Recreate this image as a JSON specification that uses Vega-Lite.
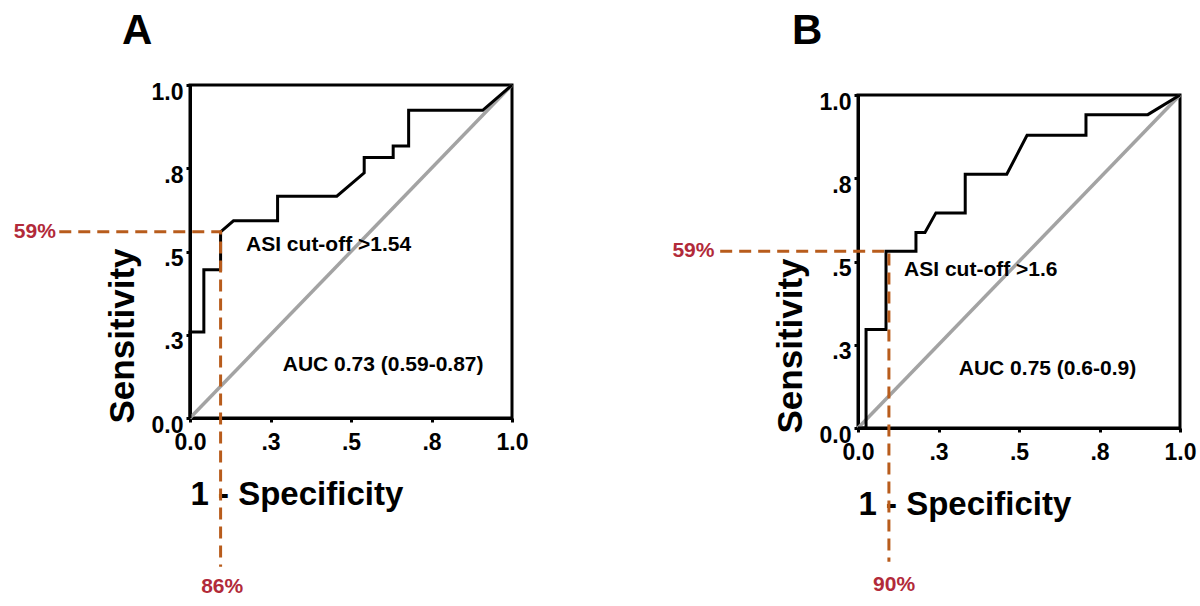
{
  "$schema": "https://vega.github.io/schema/vega-lite/v6.json",
  "background": "white",
  "padding": {"left": 12, "top": 7, "right": 5, "bottom": 5},
  "spacing": 140,
  "config": {
    "font": "Liberation Sans",
    "view": {"stroke": "black", "strokeWidth": 3},
    "axis": {
      "domainColor": "black", "domainWidth": 3,
      "tickColor": "black", "tickWidth": 3, "tickSize": 4,
      "labelFont": "Liberation Sans", "labelFontSize": 23, "labelFontWeight": "bold", "labelColor": "black",
      "titleFont": "Liberation Sans", "titleFontWeight": "bold", "titleColor": "black",
      "grid": false, "labelFlush": false, "labelOverlap": false
    },
    "axisX": {"labelPadding": 9, "titlePadding": 24, "titleAnchor": "start", "labelAngle": 0, "titleFontSize": 33},
    "axisY": {"labelPadding": 3, "labelOffset": 7, "titlePadding": 11, "titleAnchor": "start", "titleFontSize": 35, "titleY": 338}
  },
  "datasets": {
    "spacer": [],
    "diag": [{"x": 0, "y": 0}, {"x": 1, "y": 1}],
    "rocA": [
      {"i": 0, "x": 0, "y": 0}, {"i": 1, "x": 0, "y": 0.258}, {"i": 2, "x": 0.043, "y": 0.258},
      {"i": 3, "x": 0.043, "y": 0.445}, {"i": 4, "x": 0.095, "y": 0.445}, {"i": 5, "x": 0.095, "y": 0.559},
      {"i": 6, "x": 0.135, "y": 0.592}, {"i": 7, "x": 0.272, "y": 0.592}, {"i": 8, "x": 0.272, "y": 0.666},
      {"i": 9, "x": 0.456, "y": 0.666}, {"i": 10, "x": 0.541, "y": 0.736}, {"i": 11, "x": 0.541, "y": 0.782},
      {"i": 12, "x": 0.631, "y": 0.782}, {"i": 13, "x": 0.631, "y": 0.817}, {"i": 14, "x": 0.679, "y": 0.817},
      {"i": 15, "x": 0.679, "y": 0.924}, {"i": 16, "x": 0.909, "y": 0.924}, {"i": 17, "x": 1, "y": 1}
    ],
    "rocB": [
      {"i": 0, "x": 0, "y": 0}, {"i": 1, "x": 0.025, "y": 0}, {"i": 2, "x": 0.025, "y": 0.296},
      {"i": 3, "x": 0.087, "y": 0.296}, {"i": 4, "x": 0.087, "y": 0.531}, {"i": 5, "x": 0.18, "y": 0.531},
      {"i": 6, "x": 0.18, "y": 0.587}, {"i": 7, "x": 0.208, "y": 0.587}, {"i": 8, "x": 0.242, "y": 0.646},
      {"i": 9, "x": 0.333, "y": 0.646}, {"i": 10, "x": 0.333, "y": 0.762}, {"i": 11, "x": 0.462, "y": 0.762},
      {"i": 12, "x": 0.525, "y": 0.879}, {"i": 13, "x": 0.708, "y": 0.879}, {"i": 14, "x": 0.708, "y": 0.941},
      {"i": 15, "x": 0.9, "y": 0.941}, {"i": 16, "x": 1, "y": 1}
    ],
    "cutA": [{"i": 0, "x": -0.406, "y": 0.559}, {"i": 1, "x": 0.095, "y": 0.559}, {"i": 2, "x": 0.095, "y": -0.447}],
    "cutB": [{"i": 0, "x": -0.428, "y": 0.531}, {"i": 1, "x": 0.096, "y": 0.531}, {"i": 2, "x": 0.096, "y": -0.402}],
    "pctA": [{"x": -0.482, "y": 0.559, "label": "59%"}, {"x": 0.1, "y": -0.508, "label": "86%"}],
    "pctB": [{"x": -0.511, "y": 0.531, "label": "59%"}, {"x": 0.112, "y": -0.471, "label": "90%"}],
    "noteA": [{"x": 0.174, "y": 0.52, "label": "ASI cut-off >1.54"}, {"x": 0.288, "y": 0.159, "label": "AUC 0.73 (0.59-0.87)"}],
    "noteB": [{"x": 0.143, "y": 0.475, "label": "ASI cut-off >1.6"}, {"x": 0.313, "y": 0.178, "label": "AUC 0.75 (0.6-0.9)"}]
  },
  "hconcat": [
    {"spacing": 0, "vconcat": [
      {"data": {"name": "spacer"}, "width": 1, "height": 1, "view": {"stroke": null}, "mark": {"type": "text"}, "encoding": {"text": {"field": "label"}}},
      {
        "title": {"text": "A", "anchor": "start", "frame": "group", "dx": -68, "offset": 25, "fontSize": 42, "fontWeight": "bold", "font": "Liberation Sans", "color": "black"},
        "width": 322, "height": 333,
        "encoding": {
          "x": {"field": "x", "type": "quantitative", "scale": {"domain": [0, 1], "nice": false, "zero": false},
                "axis": {"title": "1 - Specificity", "values": [0, 0.25, 0.5, 0.75, 1], "labelExpr": "datum.value == 0 ? '0.0' : datum.value == 1 ? '1.0' : datum.value == 0.25 ? '.3' : datum.value == 0.5 ? '.5' : '.8'"}},
          "y": {"field": "y", "type": "quantitative", "scale": {"domain": [0, 1], "nice": false, "zero": false},
                "axis": {"title": "Sensitivity", "values": [0, 0.25, 0.5, 0.75, 1], "labelExpr": "datum.value == 0 ? '0.0' : datum.value == 1 ? '1.0' : datum.value == 0.25 ? '.3' : datum.value == 0.5 ? '.5' : '.8'"}}
        },
        "layer": [
          {"data": {"name": "diag"}, "mark": {"type": "line", "color": "#a3a3a3", "strokeWidth": 3.5}},
          {"data": {"name": "rocA"}, "mark": {"type": "line", "color": "black", "strokeWidth": 3}, "encoding": {"order": {"field": "i"}}},
          {"data": {"name": "cutA"}, "mark": {"type": "line", "color": "#b85c1c", "strokeWidth": 3, "strokeDash": [12, 7], "clip": false}, "encoding": {"order": {"field": "i"}}},
          {"data": {"name": "pctA"}, "mark": {"type": "text", "color": "#b22a3a", "fontSize": 21, "fontWeight": "bold", "align": "center", "baseline": "middle", "clip": false}, "encoding": {"text": {"field": "label"}}},
          {"data": {"name": "noteA"}, "mark": {"type": "text", "color": "black", "fontSize": 21, "fontWeight": "bold", "align": "left", "baseline": "middle"}, "encoding": {"text": {"field": "label"}}}
        ]
      }
    ]},
    {"spacing": 0, "vconcat": [
      {"data": {"name": "spacer"}, "width": 1, "height": 1, "view": {"stroke": null}, "mark": {"type": "text"}, "encoding": {"text": {"field": "label"}}},
      {
        "title": {"text": "B", "anchor": "start", "frame": "group", "dx": -66, "offset": 35, "fontSize": 42, "fontWeight": "bold", "font": "Liberation Sans", "color": "black"},
        "width": 322, "height": 333,
        "encoding": {
          "x": {"field": "x", "type": "quantitative", "scale": {"domain": [0, 1], "nice": false, "zero": false},
                "axis": {"title": "1 - Specificity", "values": [0, 0.25, 0.5, 0.75, 1], "labelExpr": "datum.value == 0 ? '0.0' : datum.value == 1 ? '1.0' : datum.value == 0.25 ? '.3' : datum.value == 0.5 ? '.5' : '.8'"}},
          "y": {"field": "y", "type": "quantitative", "scale": {"domain": [0, 1], "nice": false, "zero": false},
                "axis": {"title": "Sensitivity", "values": [0, 0.25, 0.5, 0.75, 1], "labelExpr": "datum.value == 0 ? '0.0' : datum.value == 1 ? '1.0' : datum.value == 0.25 ? '.3' : datum.value == 0.5 ? '.5' : '.8'"}}
        },
        "layer": [
          {"data": {"name": "diag"}, "mark": {"type": "line", "color": "#a3a3a3", "strokeWidth": 3.5}},
          {"data": {"name": "rocB"}, "mark": {"type": "line", "color": "black", "strokeWidth": 3}, "encoding": {"order": {"field": "i"}}},
          {"data": {"name": "cutB"}, "mark": {"type": "line", "color": "#b85c1c", "strokeWidth": 3, "strokeDash": [12, 7], "clip": false}, "encoding": {"order": {"field": "i"}}},
          {"data": {"name": "pctB"}, "mark": {"type": "text", "color": "#b22a3a", "fontSize": 21, "fontWeight": "bold", "align": "center", "baseline": "middle", "clip": false}, "encoding": {"text": {"field": "label"}}},
          {"data": {"name": "noteB"}, "mark": {"type": "text", "color": "black", "fontSize": 21, "fontWeight": "bold", "align": "left", "baseline": "middle"}, "encoding": {"text": {"field": "label"}}}
        ]
      }
    ]}
  ]
}
